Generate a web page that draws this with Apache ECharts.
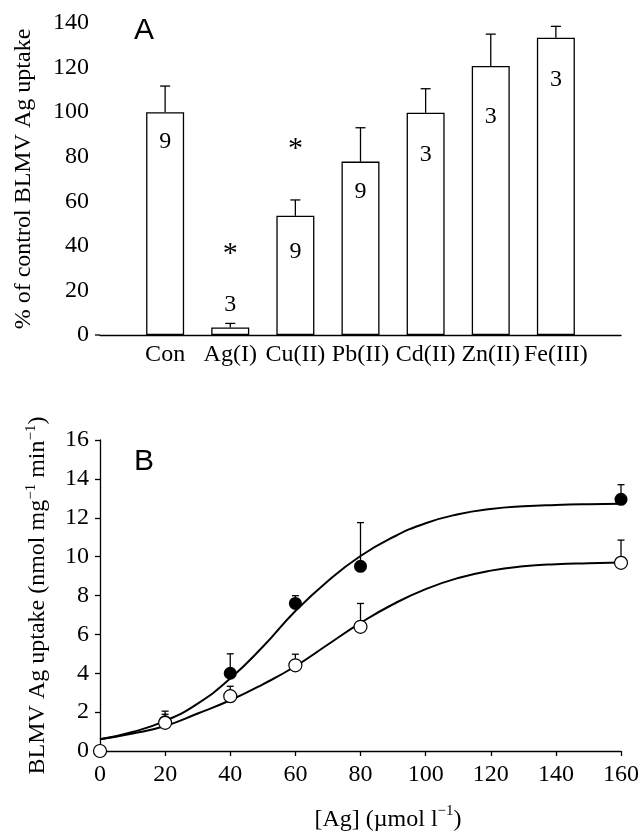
<!DOCTYPE html>
<html>
<head>
<meta charset="utf-8">
<script src="https://cdn.jsdelivr.net/npm/echarts@6/dist/echarts.min.js"></script>
<style>
  html, body { margin: 0; padding: 0; background: #fff; }
  #chart { width: 642px; height: 831px; }
</style>
</head>
<body>
<div id="chart"></div>
<script>
"use strict";
// Panel A: uptake relative to control with other metals
const metals = ["Con", "Ag(I)", "Cu(II)", "Pb(II)", "Cd(II)", "Zn(II)", "Fe(III)"];
const uptakePct = [100, 3.4, 53.5, 77.8, 99.7, 120.7, 133.4];
const uptakeErr = [11.7, 1.8, 7.1, 15.2, 10.8, 14.3, 5.1];
const nCounts = [9, 3, 9, 9, 3, 3, 3];
const nLabelY = [86.8, 13.5, 37.3, 64.4, 80.9, 98, 114.5];
const starMetals = ["Ag(I)", "Cu(II)"];
const starY = [39, 86];

// Panel B: uptake vs [Ag]
const agFilled = [20, 40, 60, 80, 160];
const filledMean = [1.5, 4.0, 7.59, 9.5, 12.95];
const filledErr = [0.55, 1.0, 0.4, 2.25, 0.75];
const agOpen = [0, 20, 40, 60, 80, 160];
const openMean = [0, 1.45, 2.82, 4.41, 6.39, 9.68];
const openErr = [0, 0.44, 0.51, 0.57, 1.2, 1.17];
const fitX = [0, 10, 20, 30, 40, 50, 60, 70, 80, 90, 100, 110, 120, 130, 140, 150, 160];
const filledFit = [0.6, 0.98, 1.55, 2.44, 3.73, 5.36, 7.2, 8.75, 10.03, 11.0, 11.72, 12.18, 12.45, 12.59, 12.66, 12.7, 12.72];
const openFit = [0.6, 0.9, 1.29, 1.93, 2.61, 3.43, 4.36, 5.48, 6.59, 7.55, 8.33, 8.9, 9.28, 9.5, 9.61, 9.66, 9.7];

const serif = "'Liberation Serif', 'Times New Roman', Times, serif";
const axisFont = { color: "#000", fontFamily: serif, fontSize: 24 };
const blackLine = { color: "#000", width: 1.3 };

// padded category list so bars sit on ticks 1..7 of 0..8
const slotsA = ["", ...metals, ""];
const slot = (m) => metals.indexOf(m) + 1;

// upward error bar with a cap
const errBar = (capHalf) => (params, api) => {
  const x = api.value(0);
  const p0 = api.coord([x, api.value(1)]);
  const p1 = api.coord([x, api.value(2)]);
  const st = { stroke: "#000", lineWidth: 1.3 };
  return {
    type: "group",
    children: [
      { type: "line", shape: { x1: p0[0], y1: p0[1], x2: p1[0], y2: p1[1] }, style: st },
      { type: "line", shape: { x1: p1[0] - capHalf, y1: p1[1], x2: p1[0] + capHalf, y2: p1[1] }, style: st },
    ],
  };
};

const textMark = (size, dy) => (params, api) => {
  const p = api.coord([api.value(0), api.value(1)]);
  return {
    type: "text",
    x: p[0],
    y: p[1] + dy,
    style: {
      text: String(api.value(2)),
      fontFamily: serif,
      fontSize: size,
      fill: "#000",
      align: "center",
      verticalAlign: "middle",
    },
  };
};

const sup = { fontFamily: serif, fontSize: 15, lineHeight: 16, verticalAlign: "top", color: "#000" };
const nrm = { fontFamily: serif, fontSize: 24, lineHeight: 28, verticalAlign: "bottom", color: "#000" };

const chart = echarts.init(document.getElementById("chart"));

/** @type {echarts.EChartsOption} */
const options = {
  backgroundColor: "#fff",
  animation: false,
  graphic: [
    { type: "text", left: 134, top: 16, style: { text: "A", fontFamily: "Liberation Sans", fontSize: 30, fill: "#000" } },
    { type: "text", left: 134, top: 447, style: { text: "B", fontFamily: "Liberation Sans", fontSize: 30, fill: "#000" } },
    // A: baseline runs a little past the y axis
    { type: "line", shape: { x1: 95, y1: 335, x2: 100, y2: 335 }, style: { stroke: "#000", lineWidth: 1.3 } },
    {
      type: "text",
      x: 388,
      y: 818,
      style: {
        text: "{n|[Ag] (\u00b5mol l}{s|\u22121}{n|)}",
        rich: { n: nrm, s: sup },
        align: "center",
        verticalAlign: "middle",
      },
    },
  ],
  grid: [
    { left: 100, top: 23, width: 521, height: 312 },
    { left: 100, top: 440, width: 521, height: 311 },
  ],
  xAxis: [
    {
      gridIndex: 0,
      type: "category",
      data: slotsA,
      boundaryGap: false,
      axisLine: { lineStyle: blackLine },
      axisTick: { show: false },
      axisLabel: { ...axisFont, interval: 0, margin: 8 },
    },
    {
      gridIndex: 1,
      type: "value",
      min: 0,
      max: 160,
      interval: 20,
      splitLine: { show: false },
      axisLine: { lineStyle: blackLine },
      axisTick: { length: 5, lineStyle: blackLine },
      axisLabel: { ...axisFont, margin: 12 },
    },
  ],
  yAxis: [
    {
      gridIndex: 0,
      type: "value",
      min: 0,
      max: 140,
      interval: 20,
      splitLine: { show: false },
      axisLine: { lineStyle: blackLine },
      axisTick: { length: 5, lineStyle: blackLine },
      axisLabel: { ...axisFont, margin: 11 },
      name: "% of control BLMV Ag uptake",
      nameLocation: "middle",
      nameRotate: 90,
      nameGap: 64,
      nameTextStyle: { ...axisFont },
    },
    {
      gridIndex: 1,
      type: "value",
      min: 0,
      max: 16,
      interval: 2,
      splitLine: { show: false },
      axisLine: { lineStyle: blackLine },
      axisTick: { length: 5, lineStyle: blackLine },
      axisLabel: { ...axisFont, margin: 11 },
      name: "BLMV Ag uptake (nmol mg{s|\u22121} min{s|\u22121})",
      nameLocation: "middle",
      nameRotate: 90,
      nameGap: 48,
      nameTextStyle: { ...nrm, rich: { s: sup } },
    },
  ],
  series: [
    {
      type: "bar",
      xAxisIndex: 0,
      yAxisIndex: 0,
      data: [null, ...uptakePct, null],
      barWidth: 38,
      itemStyle: { color: "#fff", borderColor: "#000", borderWidth: 1.3 },
      z: 2,
    },
    {
      type: "custom",
      xAxisIndex: 0,
      yAxisIndex: 0,
      renderItem: errBar(5),
      data: metals.map((m, i) => [i + 1, uptakePct[i], uptakePct[i] + uptakeErr[i]]),
      z: 1,
    },
    {
      type: "custom",
      xAxisIndex: 0,
      yAxisIndex: 0,
      renderItem: textMark(24, 0),
      data: metals.map((m, i) => [i + 1, nLabelY[i], nCounts[i]]),
      z: 3,
    },
    {
      type: "custom",
      xAxisIndex: 0,
      yAxisIndex: 0,
      renderItem: textMark(30, 6),
      data: starMetals.map((m, i) => [slot(m), starY[i], "*"]),
      z: 3,
    },
    {
      type: "line",
      xAxisIndex: 1,
      yAxisIndex: 1,
      data: fitX.map((x, i) => [x, filledFit[i]]),
      smooth: 0.5,
      showSymbol: false,
      lineStyle: { color: "#000", width: 2 },
      z: 2,
    },
    {
      type: "line",
      xAxisIndex: 1,
      yAxisIndex: 1,
      data: fitX.map((x, i) => [x, openFit[i]]),
      smooth: 0.5,
      showSymbol: false,
      lineStyle: { color: "#000", width: 2 },
      z: 2,
    },
    {
      type: "custom",
      xAxisIndex: 1,
      yAxisIndex: 1,
      renderItem: errBar(3.5),
      data: agFilled.map((x, i) => [x, filledMean[i], filledMean[i] + filledErr[i]]),
      z: 1,
    },
    {
      type: "custom",
      xAxisIndex: 1,
      yAxisIndex: 1,
      renderItem: errBar(3.5),
      data: agOpen.filter((x, i) => openErr[i] > 0).map((x) => {
        const i = agOpen.indexOf(x);
        return [x, openMean[i], openMean[i] + openErr[i]];
      }),
      z: 1,
    },
    {
      type: "scatter",
      xAxisIndex: 1,
      yAxisIndex: 1,
      data: agFilled.map((x, i) => [x, filledMean[i]]),
      symbol: "circle",
      symbolSize: 13,
      itemStyle: { color: "#000", opacity: 1 },
      z: 4,
    },
    {
      type: "scatter",
      xAxisIndex: 1,
      yAxisIndex: 1,
      data: agOpen.map((x, i) => [x, openMean[i]]),
      symbol: "circle",
      symbolSize: 13,
      clip: false,
      itemStyle: { color: "#fff", borderColor: "#000", borderWidth: 1.2, opacity: 1 },
      z: 5,
    },
  ],
};

chart.setOption(options);
</script>
</body>
</html>
